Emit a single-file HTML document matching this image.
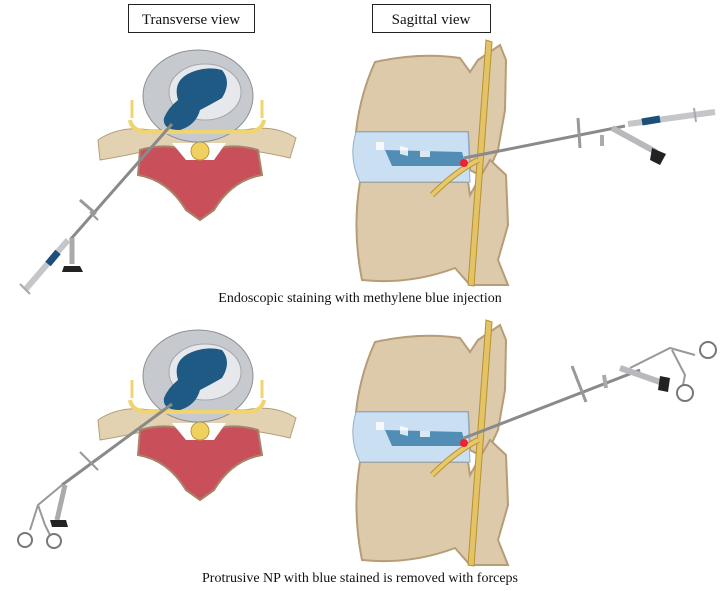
<!DOCTYPE html>
<html><head><meta charset="utf-8"><style>
html,body{margin:0;padding:0;background:#fff;width:720px;height:591px;overflow:hidden}
svg{display:block}
text{font-family:"Liberation Serif",serif;fill:#111}
</style></head><body>
<svg width="720" height="591" viewBox="0 0 720 591" xmlns="http://www.w3.org/2000/svg">
<defs>
<g id="trans">
  <path d="M98,140 Q120,125 150,130 L245,130 Q275,124 296,138 L290,158 Q265,152 245,150 L150,150 Q125,156 100,160 Z" fill="#e3d2b2" stroke="#b59d78"/>
  <path d="M140,150 Q175,140 198,158 Q222,140 258,150 L262,175 Q232,180 214,210 L200,220 L186,210 Q168,180 138,175 Z" fill="#c9505a" stroke="#a6836a" stroke-width="2"/>
  <path d="M172,143 L226,143 L214,160 L186,160 Z" fill="#fff"/>
  <circle cx="200" cy="151" r="9" fill="#f0d160" stroke="#b69a3a"/>
  <ellipse cx="198" cy="96" rx="55" ry="46" fill="#c6c9ce" stroke="#8d8f94"/>
  <ellipse cx="205" cy="92" rx="36" ry="28" fill="#e6e8ec" stroke="#a4a7ac"/>
  <path d="M178,100 Q172,80 192,72 Q208,66 222,70 Q232,82 222,98 Q208,106 200,110 Q196,125 180,130 Q162,130 164,118 Q168,108 178,100 Z" fill="#1f5a85"/>
  <path d="M130,120 Q132,132 150,132 L245,132 Q262,132 264,120" stroke="#f0d470" stroke-width="4" fill="none"/>
  <path d="M132,118 L132,100 M262,118 L262,100" stroke="#f0d470" stroke-width="3"/>
</g>
<g id="sag">
  <path d="M375,62 Q420,52 460,58 L470,72 L478,60 L500,45 L506,60 L505,110 L498,150 L485,178 L470,170 L468,132 L356,132 Q360,95 375,62 Z" fill="#dccaaa" stroke="#b69c77" stroke-width="2"/>
  <path d="M360,182 L468,182 L470,195 L490,160 L506,175 L508,225 L498,260 L508,285 L470,285 L455,268 Q410,285 362,280 Q352,230 360,182 Z" fill="#dccaaa" stroke="#b69c77" stroke-width="2"/>
  <path d="M356,132 L468,132 L470,182 L360,182 Q348,158 356,132 Z" fill="#cbdff2" stroke="#8fb0cc"/>
  <path d="M385,150 L462,152 L466,166 L392,166 Z" fill="#3d7fab" opacity=".85"/>
  <path d="M376,142 l8,0 0,8 -8,0z M400,146 l8,2 0,8 -8,-2z M420,151 l10,0 0,6 -10,0z" fill="#fff" opacity=".8"/>
  <path d="M486,40 L492,42 L474,286 L468,285 Z" fill="#e4c266" stroke="#b6932f"/>
  <path d="M478,160 Q455,172 432,195" stroke="#b6932f" stroke-width="6" fill="none"/>
  <path d="M478,160 Q455,172 432,195" stroke="#e8c86c" stroke-width="4" fill="none"/>
  <circle cx="464" cy="163" r="4" fill="#e23"/>
</g>
</defs>

<rect x="128.5" y="4.5" width="126" height="28" fill="#fff" stroke="#222"/>
<text x="191" y="24" font-size="15" text-anchor="middle">Transverse view</text>
<rect x="372.5" y="4.5" width="118" height="28" fill="#fff" stroke="#222"/>
<text x="431" y="24" font-size="15" text-anchor="middle">Sagittal view</text>

<use href="#trans"/>
<use href="#sag"/>
<!-- top-left tool -->
<line x1="172" y1="124" x2="70" y2="240" stroke="#8a8a8a" stroke-width="3"/>
<line x1="80" y1="200" x2="96" y2="214" stroke="#999" stroke-width="3"/>
<line x1="90" y1="212" x2="98" y2="220" stroke="#999" stroke-width="2"/>
<line x1="72" y1="238" x2="72" y2="264" stroke="#aaa" stroke-width="5"/>
<path d="M64,266 L80,266 L83,272 L62,272 Z" fill="#222"/>
<line x1="68" y1="240" x2="25" y2="290" stroke="#c4c6c9" stroke-width="6"/>
<line x1="58" y1="252" x2="48" y2="264" stroke="#1c4f7a" stroke-width="7"/>
<line x1="20" y1="284" x2="30" y2="294" stroke="#aaa" stroke-width="2"/>
<!-- top-right tool -->
<line x1="464" y1="158" x2="625" y2="126" stroke="#8a8a8a" stroke-width="3"/>
<line x1="578" y1="118" x2="580" y2="148" stroke="#999" stroke-width="3"/>
<line x1="602" y1="135" x2="602" y2="146" stroke="#aaa" stroke-width="4"/>
<line x1="612" y1="128" x2="656" y2="152" stroke="#b7b9bc" stroke-width="6"/>
<path d="M652,148 L666,154 L660,165 L650,160 Z" fill="#222"/>
<line x1="628" y1="124" x2="715" y2="112" stroke="#c4c6c9" stroke-width="6"/>
<line x1="642" y1="122" x2="660" y2="119" stroke="#1c4f7a" stroke-width="7"/>
<line x1="694" y1="108" x2="696" y2="122" stroke="#aaa" stroke-width="2"/>
<text x="360" y="302" font-size="14" text-anchor="middle">Endoscopic staining with methylene blue injection</text>

<use href="#trans" transform="translate(0,280)"/>
<use href="#sag" transform="translate(0,280)"/>
<!-- bottom-left forceps -->
<line x1="172" y1="404" x2="62" y2="485" stroke="#8a8a8a" stroke-width="3"/>
<line x1="80" y1="452" x2="98" y2="470" stroke="#999" stroke-width="2"/>
<line x1="65" y1="485" x2="57" y2="520" stroke="#aaa" stroke-width="5"/>
<path d="M50,520 L66,520 L68,527 L52,527 Z" fill="#222"/>
<path d="M62,485 L38,505 L30,530" stroke="#999" stroke-width="2" fill="none"/>
<path d="M38,505 L45,525 L50,535" stroke="#999" stroke-width="2" fill="none"/>
<circle cx="25" cy="540" r="7" fill="none" stroke="#777" stroke-width="2"/>
<circle cx="54" cy="541" r="7" fill="none" stroke="#777" stroke-width="2"/>
<!-- bottom-right forceps -->
<line x1="464" y1="438" x2="640" y2="370" stroke="#8a8a8a" stroke-width="3"/>
<line x1="572" y1="366" x2="586" y2="402" stroke="#999" stroke-width="3"/>
<line x1="604" y1="375" x2="606" y2="388" stroke="#aaa" stroke-width="4"/>
<line x1="620" y1="368" x2="660" y2="382" stroke="#b7b9bc" stroke-width="6"/>
<path d="M660,376 L670,378 L668,392 L658,390 Z" fill="#222"/>
<path d="M630,368 L670,348 L695,355" stroke="#999" stroke-width="2" fill="none"/>
<path d="M672,350 L685,375 L683,385" stroke="#999" stroke-width="2" fill="none"/>
<circle cx="708" cy="350" r="8" fill="none" stroke="#777" stroke-width="2"/>
<circle cx="685" cy="393" r="8" fill="none" stroke="#777" stroke-width="2"/>
<text x="360" y="582" font-size="14" text-anchor="middle">Protrusive NP with blue stained is removed with forceps</text>
</svg>
</body></html>
